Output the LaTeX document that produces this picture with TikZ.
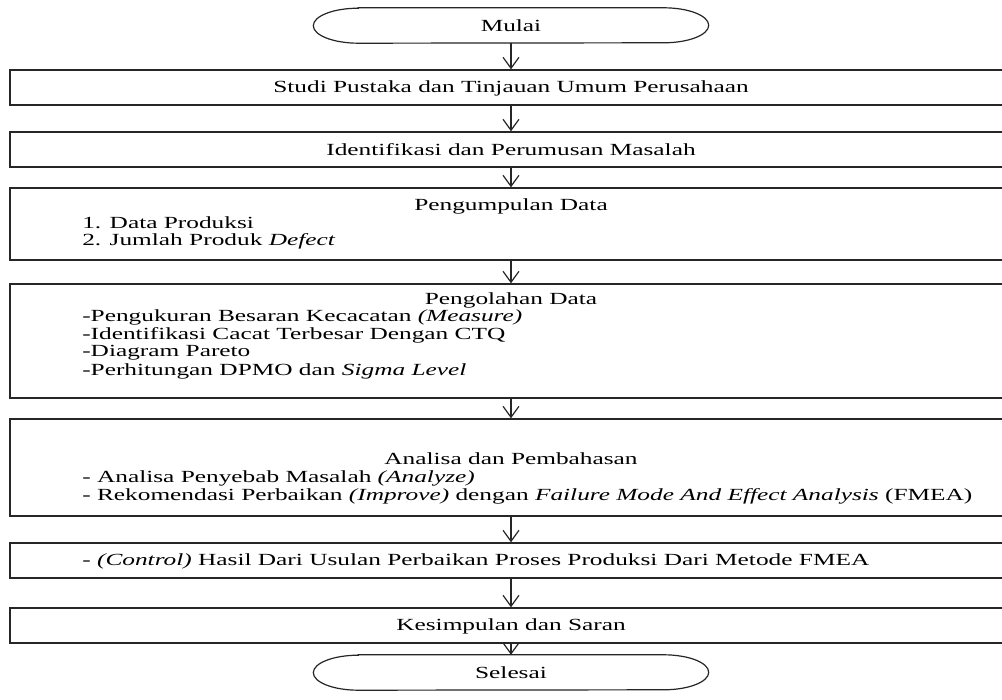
\documentclass[tikz,border=0pt]{standalone}
\usepackage{fontspec}
\setmainfont{Liberation Serif}
\usetikzlibrary{arrows.meta,calc}
\begin{document}
\begin{tikzpicture}[x=1pt,y=-1pt,
  box/.style={draw=black!85, line width=1.4pt, inner sep=0pt, minimum width=1000pt},
  term/.style={draw=black!85, line width=1.2pt},
  hole/.style={inner sep=0pt, minimum width=395pt, minimum height=35pt},
  txt/.style={inner sep=0pt, font=\fontsize{17}{18}\selectfont, xscale=1.49},
  ltxt/.style={txt, anchor=west},
  arr/.style={-{Straight Barb[length=11pt,width=16pt,line width=1.2pt]}, line width=1.2pt, draw=black!85}]
\useasboundingbox (0,0) rectangle (1002,700);
\clip (0,0) rectangle (1002,700);
\fill[white] (0,0) rectangle (1002,700);
% terminators
\node[hole] (start) at (511,25.5) {};
\draw[term] ([xshift=45pt]start.north west) -- ([xshift=-45pt]start.north east)
  arc[start angle=-90,end angle=90,x radius=45,y radius=17.5]
  -- ([xshift=45pt]start.south west)
  arc[start angle=90,end angle=270,x radius=45,y radius=17.5] -- cycle;
\node[txt] (tstart) at (511,25.5) {Mulai};
\node[hole] (stop) at (511,672.5) {};
\draw[term] ([xshift=45pt]stop.north west) -- ([xshift=-45pt]stop.north east)
  arc[start angle=-90,end angle=90,x radius=45,y radius=17.5]
  -- ([xshift=45pt]stop.south west)
  arc[start angle=90,end angle=270,x radius=45,y radius=17.5] -- cycle;
\node[txt] (tstop) at (511,672.5) {Selesai};
% boxes
\node[box, minimum height=35pt] (b1) at (510,87.5) {};
\node[box, minimum height=35pt] (b2) at (510,149.5) {};
\node[box, minimum height=72pt] (b3) at (510,224) {};
\node[box, minimum height=114pt] (b4) at (510,341) {};
\node[box, minimum height=97pt] (b5) at (510,467.5) {};
\node[box, minimum height=35pt] (b6) at (510,560.5) {};
\node[box, minimum height=35pt] (b7) at (510,625.5) {};
% texts
\node[txt] (t1) at (511,88) {Studi Pustaka dan Tinjauan Umum Perusahaan};
\node[txt] (t2) at (511,150) {Identifikasi dan Perumusan Masalah};
\node[txt] (t3) at (511,206) {Pengumpulan Data};
\node[ltxt] (t3a) at (82,223) {1. Data Produksi};
\node[ltxt] (t3b) at (82,241) {2. Jumlah Produk \textit{Defect}};
\node[txt] (t4) at (511,300) {Pengolahan Data};
\node[ltxt] (t4a) at (82,317) {-Pengukuran Besaran Kecacatan \textit{(Measure)}};
\node[ltxt] (t4b) at (82,335) {-Identifikasi Cacat Terbesar Dengan CTQ};
\node[ltxt] (t4c) at (82,353) {-Diagram Pareto};
\node[ltxt] (t4d) at (82,371) {-Perhitungan DPMO dan \textit{Sigma Level}};
\node[txt] (t5) at (511,459) {Analisa dan Pembahasan};
\node[ltxt] (t5a) at (82,478) {- Analisa Penyebab Masalah \textit{(Analyze)}};
\node[ltxt] (t5b) at (82,496) {- Rekomendasi Perbaikan \textit{(Improve)} dengan \textit{Failure Mode And Effect Analysis} (FMEA)};
\node[ltxt] (t6) at (82,561) {- \textit{(Control)} Hasil Dari Usulan Perbaikan Proses Produksi Dari Metode FMEA};
\node[txt] (t7) at (511,626) {Kesimpulan dan Saran};
% arrows
\draw[arr] (start.south) -- (start.south |- b1.north);
\draw[arr] (b1.south -| start) -- (b2.north -| start);
\draw[arr] (b2.south -| start) -- (b3.north -| start);
\draw[arr] (b3.south -| start) -- (b4.north -| start);
\draw[arr] (b4.south -| start) -- (b5.north -| start);
\draw[arr] (b5.south -| start) -- (b6.north -| start);
\draw[arr] (b6.south -| start) -- (b7.north -| start);
\draw[arr] (b7.south -| start) -- (stop.north);
\end{tikzpicture}
\end{document}
